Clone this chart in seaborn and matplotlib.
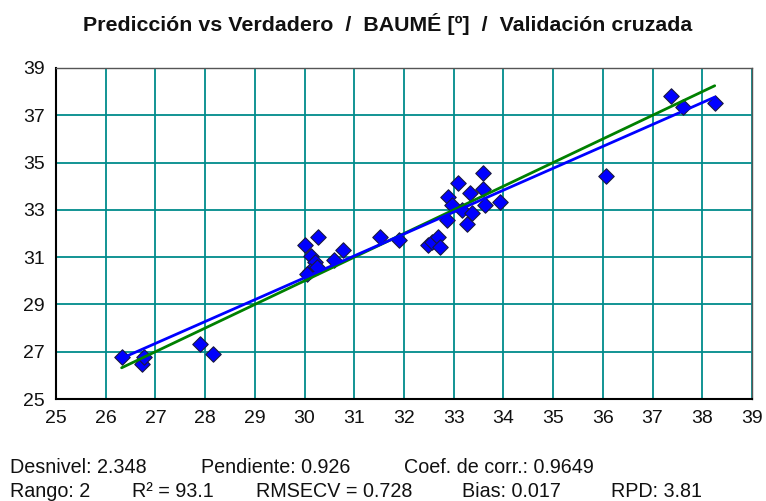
import matplotlib
matplotlib.use("Agg")
import matplotlib.pyplot as plt
import seaborn as sns
import numpy as np
import pandas as pd

# ---- data ----
x_true = [26.32, 26.72, 26.78, 27.90, 28.16, 30.00, 30.28, 30.13, 30.20, 30.10,
          30.25, 30.05, 30.60, 30.77, 31.51, 31.90, 32.49, 32.56, 32.69, 32.73,
          32.86, 32.88, 32.96, 33.08, 33.17, 33.27, 33.33, 33.37, 33.58, 33.58,
          33.62, 33.94, 36.06, 37.38, 37.61, 38.25]
y_pred = [26.79, 26.50, 26.79, 27.31, 26.89, 31.50, 31.87, 31.05, 30.80, 30.40,
          30.60, 30.30, 30.90, 31.30, 31.87, 31.73, 31.52, 31.66, 31.87, 31.45,
          32.58, 33.56, 33.21, 34.13, 33.00, 32.39, 33.70, 32.86, 34.54, 33.90,
          33.20, 33.35, 34.44, 37.82, 37.35, 37.54]
intercept = 2.348
slope = 0.926
x_ticks = list(range(25, 40, 1))
y_ticks = list(range(25, 40, 2))
title = "Predicción vs Verdadero  /  BAUMÉ [º]  /  Validación cruzada"
stats_line1 = [("Desnivel: 2.348", 10), ("Pendiente: 0.926", 201), ("Coef. de corr.: 0.9649", 404)]
stats_line2 = [("Rango: 2", 10), ("R² = 93.1", 132), ("RMSECV = 0.728", 256),
               ("Bias: 0.017", 462), ("RPD: 3.81", 611)]

sns.set_style("white")
plt.rcParams['font.family'] = ['Liberation Sans', 'DejaVu Sans']

W, H = 766, 501
fig = plt.figure(figsize=(W / 100, H / 100), dpi=100)
ax = fig.add_axes([56 / W, 1 - 399 / H, (752 - 56) / W, (399 - 68) / H])

df = pd.DataFrame({"x": x_true, "y": y_pred})
sns.scatterplot(data=df, x="x", y="y", marker="D", s=62, color="#0000ff",
                edgecolor="#1a1a40", linewidth=0.8, ax=ax, zorder=3)

xs = np.array([min(x_true), max(x_true)])
ax.plot(xs, xs, color="#008000", lw=2.0, zorder=4)
ax.plot(xs, intercept + slope * xs, color="#0000ff", lw=2.0, zorder=5)

ax.set_xlim(25, 39)
ax.set_ylim(25, 39)
ax.set_xticks(x_ticks)
ax.set_yticks(y_ticks)
ax.grid(True, color="#008b8b", lw=1.3, zorder=0)
ax.set_axisbelow(True)
ax.set_xlabel("")
ax.set_ylabel("")
ax.tick_params(axis="both", direction="out", length=5, width=1.2, color="black",
               labelsize=14, pad=3, labelcolor="#111111")
for side in ["left", "bottom"]:
    ax.spines[side].set_color("black")
    ax.spines[side].set_linewidth(1.5)
for side in ["top", "right"]:
    ax.spines[side].set_color("#555555")
    ax.spines[side].set_linewidth(1.0)

fig.text(388 / W, 1 - 24 / H, title, ha="center", va="center",
         fontsize=15.4, fontweight="bold", color="#111111")

for txt, px in stats_line1:
    fig.text(px / W, 1 - 472.7 / H, txt, ha="left", va="baseline", fontsize=14.2, color="#111111")
for txt, px in stats_line2:
    fig.text(px / W, 1 - 496.7 / H, txt, ha="left", va="baseline", fontsize=14.2, color="#111111")

fig.savefig("out.png", dpi=100)
